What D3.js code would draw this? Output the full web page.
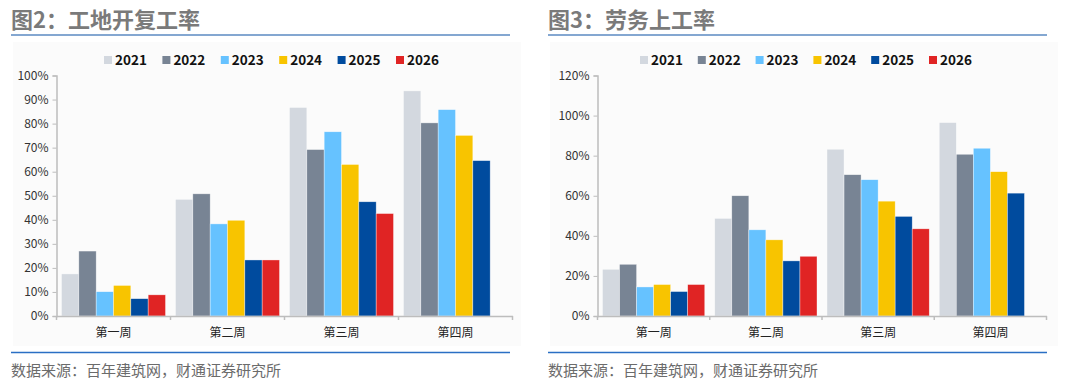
<!DOCTYPE html>
<meta charset="utf-8">
<style>
body { margin: 0; background: #fff; }
text { font-family: "Noto Sans CJK SC", "Liberation Sans", sans-serif; }
</style>
<body>
<script src="https://d3js.org/d3.v7.min.js"></script>
<script>

var weeks = ["第一周", "第二周", "第三周", "第四周"];
var years = ["2021", "2022", "2023", "2024", "2025", "2026"];
var colors = ["#d3d8df", "#788494", "#66c2ff", "#f8c400", "#004b9e", "#e02424"];

// 工地开复工率 (%), one row per year, null = no data yet
var siteRate = [
  [17.5, 48.5, 86.7, 93.6],
  [27.0, 50.8, 69.2, 80.3],
  [10.1, 38.3, 76.6, 85.8],
  [12.7, 39.8, 63.0, 75.1],
  [7.2, 23.3, 47.5, 64.6],
  [8.8, 23.3, 42.6, null]
];
// 劳务上工率 (%)
var labourRate = [
  [23.3, 48.7, 83.2, 96.5],
  [25.8, 60.0, 70.5, 80.7],
  [14.5, 43.0, 68.0, 83.7],
  [15.7, 38.0, 57.3, 72.0],
  [12.2, 27.5, 49.7, 61.3],
  [15.7, 29.8, 43.5, null]
];
var siteTicks = [0, 10, 20, 30, 40, 50, 60, 70, 80, 90, 100];
var labourTicks = [0, 20, 40, 60, 80, 100, 120];

var svg = d3.select("body").append("svg")
    .attr("width", 1080)
    .attr("height", 388);

function drawPanel(ox, title, values, ticks, yMax, axisX, axisRight, legendX, legendStep) {
  var g = svg.append("g").attr("transform", "translate(" + ox + ",0)");

  // light plot background
  g.append("rect")
      .attr("x", 2).attr("y", 42).attr("width", 508).attr("height", 304)
      .attr("fill", "#fbfbfb");

  // title + rule
  g.append("text")
      .attr("x", 0).attr("y", 28)
      .attr("font-size", 22)
      .attr("font-weight", "bold")
      .attr("fill", "#7a7a7a")
      .text(title);
  g.append("line")
      .attr("x1", 0).attr("x2", 499).attr("y1", 35).attr("y2", 35)
      .attr("stroke", "#5b8ac2").attr("stroke-width", 1.5);

  // legend
  var leg = g.selectAll(".leg").data(years).enter().append("g")
      .attr("transform", function(d, i) { return "translate(" + (legendX + i * legendStep) + ",60)"; });
  leg.append("rect")
      .attr("x", 0).attr("y", -4).attr("width", 8).attr("height", 8)
      .attr("fill", function(d, i) { return colors[i]; });
  leg.append("text")
      .attr("x", 11).attr("y", 5)
      .attr("font-family", "Liberation Sans, sans-serif")
      .attr("font-size", 13.5)
      .attr("font-weight", "bold")
      .attr("fill", "#111")
      .text(function(d) { return d; });

  var x0 = d3.scaleBand().domain(weeks).range([axisX, axisRight]);
  var x1 = d3.scaleBand().domain(years).range([5, x0.bandwidth() - 5]);
  var y = d3.scaleLinear().domain([0, yMax]).range([316, 75.5]);

  // bars
  var rows = [];
  values.forEach(function(row, si) {
    row.forEach(function(v, wi) {
      if (v != null) rows.push({year: years[si], week: weeks[wi], v: v, c: colors[si]});
    });
  });
  g.selectAll(".bar").data(rows).enter().append("rect")
      .attr("x", function(d) { return x0(d.week) + x1(d.year); })
      .attr("y", function(d) { return y(d.v); })
      .attr("width", x1.bandwidth())
      .attr("height", function(d) { return y(0) - y(d.v); })
      .attr("fill", function(d) { return d.c; })
      .attr("stroke", "#fff")
      .attr("stroke-opacity", 0.6)
      .attr("stroke-width", 0.6);

  // y axis
  var ya = g.append("g")
      .attr("transform", "translate(" + axisX + ",0)")
      .call(d3.axisLeft(y).tickValues(ticks).tickSize(4).tickPadding(4)
        .tickFormat(function(d) { return d + "%"; }));
  ya.select(".domain").attr("stroke", "#bdbdbd").attr("stroke-width", 1.5);
  ya.selectAll(".tick line").attr("stroke", "#bdbdbd");
  ya.selectAll(".tick text")
      .attr("font-family", "Liberation Sans, sans-serif")
      .attr("font-size", 12).attr("fill", "#333");

  // x axis: ticks at category boundaries
  var xa = g.append("g")
      .attr("transform", "translate(0," + y(0) + ")")
      .call(d3.axisBottom(x0).tickSize(0).tickPadding(12));
  xa.select(".domain").attr("stroke", "#bdbdbd").attr("stroke-width", 1.5);
  xa.selectAll(".tick text").attr("font-size", 12).attr("fill", "#222");
  xa.selectAll(".sep").data(weeks.concat([null])).enter().append("line")
      .attr("x1", function(d, i) { return axisX + i * x0.bandwidth(); })
      .attr("x2", function(d, i) { return axisX + i * x0.bandwidth(); })
      .attr("y1", 0).attr("y2", 4)
      .attr("stroke", "#bdbdbd").attr("stroke-width", 1.5);

  // footer
  g.append("line")
      .attr("x1", 0).attr("x2", 499).attr("y1", 352.5).attr("y2", 352.5)
      .attr("stroke", "#2a6fc4").attr("stroke-width", 1.5);
  g.append("text")
      .attr("x", 0).attr("y", 376)
      .attr("font-size", 15)
      .attr("fill", "#6b6b6b")
      .text("数据来源：百年建筑网，财通证券研究所");
}

drawPanel(11, "图2：工地开复工率", siteRate, siteTicks, 100, 45.5, 501.5, 93, 58.4);
drawPanel(548, "图3：劳务上工率", labourRate, labourTicks, 120, 49.5, 498.5, 92, 57.8);

</script>
</body>
